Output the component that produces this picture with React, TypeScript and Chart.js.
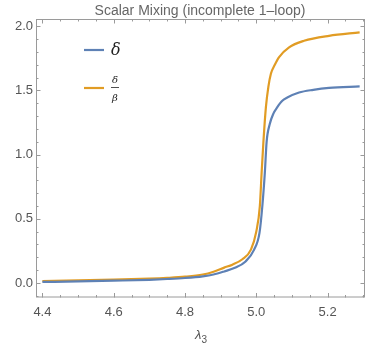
import React, { useEffect, useRef } from "react";
import { Chart, registerables } from "chart.js";

Chart.register(...registerables);

const deltaX = [4.40, 4.50, 4.60, 4.70, 4.75, 4.80, 4.85, 4.88, 4.91, 4.94, 4.97, 4.994, 5.009, 5.017, 5.024, 5.029, 5.038, 5.048, 5.059, 5.073, 5.087, 5.12, 5.16, 5.204, 5.29];
const deltaVals = [0.008, 0.012, 0.018, 0.025, 0.031, 0.039, 0.052, 0.066, 0.09, 0.118, 0.168, 0.26, 0.39, 0.60, 0.86, 1.10, 1.24, 1.32, 1.37, 1.42, 1.445, 1.484, 1.505, 1.52, 1.532];
const ratioX = [4.40, 4.50, 4.60, 4.70, 4.75, 4.80, 4.85, 4.88, 4.91, 4.933, 4.961, 4.985, 5.000, 5.010, 5.015, 5.020, 5.027, 5.034, 5.041, 5.052, 5.064, 5.092, 5.134, 5.204, 5.29];
const deltaOverBeta = [0.015, 0.02, 0.026, 0.034, 0.040, 0.049, 0.066, 0.088, 0.12, 0.143, 0.185, 0.26, 0.40, 0.60, 0.86, 1.10, 1.37, 1.53, 1.63, 1.70, 1.76, 1.836, 1.887, 1.926, 1.953];

const xTicks = [4.4, 4.6, 4.8, 5.0, 5.2];
const xMinorStep = 0.05;
const yTicks = [0, 0.5, 1.0, 1.5, 2.0];
const yMinorStep = 0.1;

const titleText = "Scalar Mixing (incomplete 1\u2013loop)";
const BLUE = "#5E81B5";
const ORANGE = "#E19C24";
const GRAY = "#555555";
const FRAME = "#9a9a9a";
const FONT = "'Liberation Sans Narrow', 'Liberation Sans', sans-serif";

const decorPlugin = {
  id: "decor",
  afterDraw(chart: any) {
    const ctx = chart.ctx;
    const a = chart.chartArea;
    const xs = chart.scales.x;
    const ys = chart.scales.y;
    ctx.save();
    ctx.strokeStyle = FRAME;
    ctx.lineWidth = 1;
    ctx.strokeRect(a.left + 0.5, a.top + 0.5, a.right - a.left - 1, a.bottom - a.top - 1);
    const drawX = (v: number, len: number) => {
      const p = Math.round(xs.getPixelForValue(v)) + 0.5;
      ctx.beginPath();
      ctx.moveTo(p, a.bottom);
      ctx.lineTo(p, a.bottom - len);
      ctx.moveTo(p, a.top);
      ctx.lineTo(p, a.top + len);
      ctx.stroke();
    };
    const drawY = (v: number, len: number) => {
      const p = Math.round(ys.getPixelForValue(v)) + 0.5;
      ctx.beginPath();
      ctx.moveTo(a.left, p);
      ctx.lineTo(a.left + len, p);
      ctx.moveTo(a.right, p);
      ctx.lineTo(a.right - len, p);
      ctx.stroke();
    };
    for (let i = 0; ; i++) {
      const v = 4.4 + i * xMinorStep;
      if (v > xs.max) break;
      const isMajor = xTicks.some((t) => Math.abs(t - v) < 1e-6);
      drawX(v, isMajor ? 4.5 : 2.5);
    }
    for (let i = -1; ; i++) {
      const v = i * yMinorStep;
      if (v > ys.max) break;
      if (v < ys.min) continue;
      const isMajor = yTicks.some((t) => Math.abs(t - v) < 1e-6);
      drawY(v, isMajor ? 4.5 : 2.5);
    }
    ctx.fillStyle = "#666666";
    ctx.font = `14px ${FONT}`;
    ctx.textAlign = "center";
    ctx.textBaseline = "middle";
    ctx.fillText(titleText, 200, 11);
    ctx.fillStyle = GRAY;
    ctx.font = `italic 13px ${FONT}`;
    ctx.textAlign = "left";
    ctx.textBaseline = "alphabetic";
    ctx.fillText("\u03bb", 195, 339);
    ctx.font = `10px ${FONT}`;
    ctx.fillText("3", 201.5, 343);
    ctx.lineWidth = 2.2;
    ctx.strokeStyle = BLUE;
    ctx.beginPath();
    ctx.moveTo(84, 50);
    ctx.lineTo(104, 50);
    ctx.stroke();
    ctx.strokeStyle = ORANGE;
    ctx.beginPath();
    ctx.moveTo(84, 88);
    ctx.lineTo(104, 88);
    ctx.stroke();
    ctx.fillStyle = "#222222";
    ctx.font = `italic 16px 'DejaVu Serif', serif`;
    ctx.textAlign = "left";
    ctx.textBaseline = "middle";
    ctx.fillText("\u03b4", 111, 51);
    ctx.font = `italic 10px 'DejaVu Serif', serif`;
    ctx.textAlign = "center";
    ctx.fillText("\u03b4", 115, 80);
    ctx.fillText("\u03b2", 115, 98);
    ctx.lineWidth = 0.8;
    ctx.strokeStyle = "#222222";
    ctx.beginPath();
    ctx.moveTo(111, 87.5);
    ctx.lineTo(119, 87.5);
    ctx.stroke();
    ctx.restore();
  },
};

export default function App() {
  const ref = useRef<HTMLCanvasElement | null>(null);
  useEffect(() => {
    document.body.style.margin = "0";
    const canvas = ref.current!;
    const chart = new Chart(canvas, {
      type: "line",
      data: {
        datasets: [
          {
            label: "\u03b4",
            data: deltaX.map((x, i) => ({ x, y: deltaVals[i] })),
            borderColor: BLUE,
            borderWidth: 2.2,
            pointRadius: 0,
            cubicInterpolationMode: "monotone",
            fill: false,
          },
          {
            label: "\u03b4/\u03b2",
            data: ratioX.map((x, i) => ({ x, y: deltaOverBeta[i] })),
            borderColor: ORANGE,
            borderWidth: 2.2,
            pointRadius: 0,
            cubicInterpolationMode: "monotone",
            fill: false,
          },
        ],
      },
      options: {
        animation: false,
        responsive: false,
        layout: { padding: { top: 19, right: 2, left: 0, bottom: 0 } },
        plugins: { legend: { display: false }, tooltip: { enabled: false }, title: { display: false } },
        scales: {
          x: {
            type: "linear",
            min: 4.382,
            max: 5.305,
            grid: { display: false, drawTicks: false },
            border: { display: false },
            afterBuildTicks: (s: any) => {
              s.ticks = xTicks.map((v) => ({ value: v }));
            },
            afterFit: (s: any) => {
              s.height = 48.5;
            },
            ticks: {
              padding: 7,
              color: GRAY,
              font: { family: FONT, size: 13 },
              maxRotation: 0,
              callback: (v: any) => Number(v).toFixed(1),
            },
          },
          y: {
            type: "linear",
            min: -0.113,
            max: 2.057,
            grid: { display: false, drawTicks: false },
            border: { display: false },
            afterBuildTicks: (s: any) => {
              s.ticks = yTicks.map((v) => ({ value: v }));
            },
            afterFit: (s: any) => {
              s.width = 36;
            },
            ticks: {
              padding: 3,
              color: GRAY,
              font: { family: FONT, size: 13 },
              callback: (v: any) => Number(v).toFixed(1),
            },
          },
        },
      },
      plugins: [decorPlugin],
    } as any);
    return () => chart.destroy();
  }, []);
  return (
    <div style={{ position: "fixed", left: 0, top: 0, width: 367, height: 346, background: "#fff" }}>
      <canvas ref={ref} width={367} height={346} style={{ width: 367, height: 346 }} />
    </div>
  );
}
